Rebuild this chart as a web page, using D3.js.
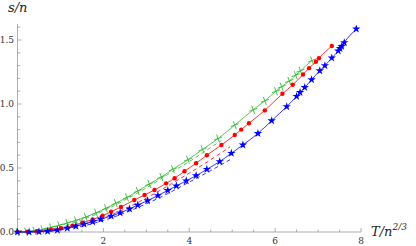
<!DOCTYPE html>
<html><head><meta charset="utf-8">
<script src="https://cdn.jsdelivr.net/npm/d3@7"></script>
<style>html,body{margin:0;padding:0;background:#fff;}svg{display:block;}
text{font-family:"DejaVu Serif","Liberation Serif",serif;}</style>
</head><body>
<svg id="c" width="416" height="246"></svg>
<script>
// ---- data ----
const greenX = [0,0.2,0.39,0.58,0.78,0.97,1.16,1.36,1.59,1.83,2.06,2.29,2.55,2.8,3.07,3.35,3.62,3.97,4.31,4.67,5.06,5.49,5.76,6.02,6.15,6.33,6.48,6.59,6.86];
const greenY = [0,0.003,0.01,0.02,0.035,0.052,0.07,0.09,0.117,0.15,0.185,0.225,0.27,0.32,0.375,0.43,0.49,0.565,0.645,0.73,0.835,0.955,1.025,1.10,1.135,1.18,1.225,1.26,1.34];
const redX = [0,0.23,0.45,0.78,1.01,1.28,1.51,1.75,1.98,2.18,2.41,2.72,2.96,3.19,3.46,3.66,3.89,4.16,4.41,4.75,5.06,5.21,5.39,5.76,6.17,6.41,6.65,6.79,6.95,7.02,7.32];
const redY = [0,0.002,0.006,0.018,0.03,0.05,0.072,0.098,0.127,0.158,0.195,0.25,0.289,0.328,0.38,0.42,0.475,0.537,0.60,0.68,0.758,0.80,0.85,0.95,1.08,1.15,1.23,1.28,1.33,1.357,1.453];
const blueX = [0,0.27,0.5,0.7,0.93,1.16,1.36,1.55,1.75,1.94,2.18,2.39,2.61,2.8,3.03,3.27,3.5,3.7,3.93,4.16,4.41,4.71,4.98,5.25,5.6,5.92,6.27,6.5,6.58,6.69,6.85,7.04,7.16,7.32,7.47,7.51,7.55,7.61,7.89];
const blueY = [0,0,0.002,0.006,0.015,0.03,0.045,0.062,0.08,0.10,0.125,0.15,0.18,0.21,0.245,0.285,0.325,0.36,0.40,0.44,0.49,0.55,0.615,0.68,0.77,0.87,0.98,1.06,1.09,1.13,1.19,1.26,1.30,1.36,1.415,1.435,1.45,1.48,1.586];
const dashGreenX = [0,0.5,1,1.5,2,2.5,3,3.5,4,4.5,4.75];
const dashGreenY = [0,0.008,0.04,0.095,0.165,0.25,0.345,0.45,0.55,0.66,0.715];
const dashRedX = [0,0.5,1,1.5,2,2.5,3,3.5,4,4.5,4.95];
const dashRedY = [0,0.004,0.022,0.058,0.11,0.18,0.265,0.36,0.46,0.565,0.665];
const dashBlueX = [0,0.5,1,1.5,2,2.5,3,3.5,4,4.5,4.95];
const dashBlueY = [0,0.002,0.016,0.045,0.09,0.15,0.22,0.30,0.39,0.48,0.565];
const xTicks = [2,4,6,8];
const xTickLabels = ["2","4","6","8"];
const yTicks = [0,0.5,1.0,1.5];
const yTickLabels = ["0.0","0.5","1.0","1.5"];
const xLabel = "T/n";
const xLabelSup = "2/3";
const yLabel = "s/n";

// ---- layout ----
const svg = d3.select("#c");
const x = d3.scaleLinear().domain([0,8]).range([17.5,361]);
const y = d3.scaleLinear().domain([0,1.5]).range([232,40]);
const axisColor = "#999";

// axes
const gx = svg.append("g").attr("transform","translate(0,232)");
const xMinor = d3.range(0.5,8.01,0.5).filter(v=>!xTicks.includes(v));
gx.append("line").attr("x1",x(0)).attr("x2",x(8)).attr("stroke",axisColor).attr("stroke-width",0.8);
gx.selectAll(".xmaj").data(xTicks).join("line").attr("x1",d=>x(d)).attr("x2",d=>x(d)).attr("y1",0).attr("y2",-4).attr("stroke",axisColor).attr("stroke-width",0.8);
gx.selectAll(".xmin").data(xMinor).join("line").attr("x1",d=>x(d)).attr("x2",d=>x(d)).attr("y1",0).attr("y2",-2.5).attr("stroke",axisColor).attr("stroke-width",0.8);
gx.selectAll(".xl").data(xTicks).join("text").attr("x",d=>x(d)).attr("y",12).attr("text-anchor","middle")
  .style("font-size","9px").attr("fill","#333").text((d,i)=>xTickLabels[i]);

const gy = svg.append("g").attr("transform","translate(17.5,0)");
const yMinor = d3.range(0.1,1.65,0.1).map(v=>+v.toFixed(2)).filter(v=>!yTicks.some(t=>Math.abs(t-v)<1e-6));
gy.append("line").attr("y1",y(0)).attr("y2",24).attr("stroke",axisColor).attr("stroke-width",0.8);
gy.selectAll(".ymaj").data(yTicks).join("line").attr("y1",d=>y(d)).attr("y2",d=>y(d)).attr("x1",0).attr("x2",4).attr("stroke",axisColor).attr("stroke-width",0.8);
gy.selectAll(".ymin").data(yMinor).join("line").attr("y1",d=>y(d)).attr("y2",d=>y(d)).attr("x1",0).attr("x2",2.5).attr("stroke",axisColor).attr("stroke-width",0.8);
gy.selectAll(".yl").data(yTicks).join("text").attr("x",-3.5).attr("y",d=>y(d)+3).attr("text-anchor","end")
  .style("font-size","9px").attr("fill","#333").text((d,i)=>yTickLabels[i]);

// axis labels
const xl = svg.append("text").attr("x",371).attr("y",236).style("font-size","13px").style("font-style","italic").attr("fill","#222");
xl.append("tspan").text(xLabel);
xl.append("tspan").attr("dy",-6).style("font-size","9px").text(xLabelSup);
svg.append("text").attr("x",8).attr("y",12).style("font-size","13px").style("font-style","italic").attr("fill","#222").text(yLabel);

// series
const line = d3.line().x(d=>x(d[0])).y(d=>y(d[1])).curve(d3.curveMonotoneX);
const zip = (a,b)=>a.map((v,i)=>[v,b[i]]);
const green = "#33b833", red = "#ff0000", blue = "#0000ff";

[[dashGreenX,dashGreenY,green],[dashRedX,dashRedY,red],[dashBlueX,dashBlueY,blue]].forEach(([xs,ys,c])=>{
  svg.append("path").attr("d",line(zip(xs,ys))).attr("fill","none").attr("stroke",c).attr("stroke-width",0.8).attr("stroke-dasharray","4,3");
});

const series = [
  {xs:greenX, ys:greenY, c:green, sym:"cross"},
  {xs:redX, ys:redY, c:red, sym:"circle"},
  {xs:blueX, ys:blueY, c:blue, sym:"star"}
];
series.forEach(s=>{
  const pts = zip(s.xs,s.ys);
  svg.append("path").attr("d",line(pts)).attr("fill","none").attr("stroke",s.c).attr("stroke-width",0.8);
  const g = svg.append("g");
  if (s.sym==="circle") {
    g.selectAll("circle").data(pts).join("circle").attr("cx",d=>x(d[0])).attr("cy",d=>y(d[1])).attr("r",2.2).attr("fill",s.c);
  } else if (s.sym==="star") {
    const p = d3.symbol().type(d3.symbolStar).size(22)();
    g.selectAll("path").data(pts).join("path").attr("d",p).attr("transform",d=>`translate(${x(d[0])},${y(d[1])})`).attr("fill",s.c);
  } else {
    const p = d3.symbol().type(d3.symbolPlus).size(26)();
    g.selectAll("path").data(pts).join("path").attr("d",p).attr("transform",d=>`translate(${x(d[0])},${y(d[1])}) rotate(-20)`).attr("fill","none").attr("stroke",s.c).attr("stroke-width",0.8);
  }
});
</script>
</body></html>
